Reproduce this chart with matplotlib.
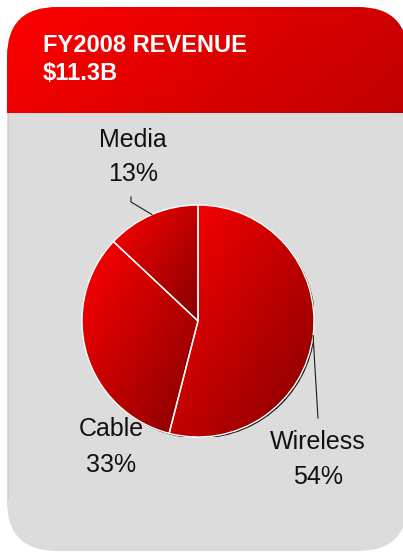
import numpy as np
import matplotlib.pyplot as plt
from matplotlib.patches import FancyBboxPatch, Circle
from matplotlib.colors import LinearSegmentedColormap

plt.rcParams['font.family'] = ['Liberation Sans', 'DejaVu Sans']

# revenue split
segments = ['Wireless', 'Cable', 'Media']
shares = [54, 33, 13]
title_lines = ['FY2008 REVENUE', '$11.3B']

W, H = 403, 552
fig = plt.figure(figsize=(W / 100, H / 100), dpi=100)
fig.patch.set_facecolor('white')

# background axes in pixel units (y down)
bg = fig.add_axes([0, 0, 1, 1])
bg.set_xlim(0, W)
bg.set_ylim(H, 0)
bg.axis('off')

card = FancyBboxPatch((7, 7), 401, 544, boxstyle='round,pad=0,rounding_size=50',
                      fc='#dcdcdc', ec='none', zorder=1)
bg.add_patch(card)

# red header band with a left->right gradient
gx, gy = np.meshgrid(np.linspace(0, 1, 256), np.linspace(0, 1, 64))
hdr_cmap = LinearSegmentedColormap.from_list('hdr', ['#ff0000', '#bf0000'])
hdr = bg.imshow(0.75 * gx + 0.25 * gy, extent=[7, 408, 113, 7], cmap=hdr_cmap,
                vmin=0, vmax=1, aspect='auto', interpolation='bilinear', zorder=2)
hdr.set_clip_path(card)
bg.set_xlim(0, W)
bg.set_ylim(H, 0)
bg.plot([7.5, 7.5], [113, 500], color='#e2c4c4', lw=0.6, zorder=2)

bg.text(43, 51.7, title_lines[0], color='white', fontsize=17, fontweight='bold',
        ha='left', va='baseline', zorder=3)
bg.text(43, 80, title_lines[1], color='white', fontsize=17, fontweight='bold',
        ha='left', va='baseline', zorder=3)

# pie
pax = fig.add_axes([82 / W, (H - 321 - 116) / H, 232 / W, 232 / H])
wedges, _ = pax.pie(shares, startangle=90, counterclock=False, radius=1,
                    wedgeprops=dict(lw=1, ec='white'))
pax.add_patch(Circle((0.012, -0.012), 1.0, fc='#1a1a1a', ec='none', zorder=0))

slice_cmap = LinearSegmentedColormap.from_list('slice', ['#ff0000', '#850000'])
for w in wedges:
    ext = w.get_path().get_extents()
    sx, sy = np.meshgrid(np.linspace(0, 1, 128), np.linspace(0, 1, 128))
    im = pax.imshow((sx + (1 - sy)) / 2, extent=[ext.x0, ext.x1, ext.y0, ext.y1],
                    origin='lower', cmap=slice_cmap, vmin=0, vmax=1,
                    aspect='auto', interpolation='bilinear', zorder=2)
    im.set_clip_path(w)
    w.set_facecolor('none')
    w.set_zorder(3)

pax.set_xlim(-1, 1)
pax.set_ylim(-1, 1)
pax.axis('off')

# leader lines from wedge midpoints
def mid_point(w, r=1.0):
    a = np.deg2rad((w.theta1 + w.theta2) / 2)
    return r * np.cos(a), r * np.sin(a)

mx, my = mid_point(wedges[2])
pax.plot([mx, -0.578, -0.578], [my, 1.026, 1.069], color='#1a1a1a', lw=0.8,
         clip_on=False, zorder=4)
wx, wy = mid_point(wedges[0])
pax.plot([wx, 1.034], [wy, -0.836], color='#1a1a1a', lw=0.8, clip_on=False, zorder=4)

# labels
label_pos = {'Wireless': (318, 449, 484), 'Cable': (111, 436, 472), 'Media': (133, 147, 181)}
for name, val in zip(segments, shares):
    x, y1, y2 = label_pos[name]
    bg.text(x, y1, name, fontsize=18, color='#111111', ha='center', va='baseline')
    bg.text(x, y2, f'{val}%', fontsize=18, color='#111111', ha='center', va='baseline')

fig.savefig('out.png', dpi=100)
